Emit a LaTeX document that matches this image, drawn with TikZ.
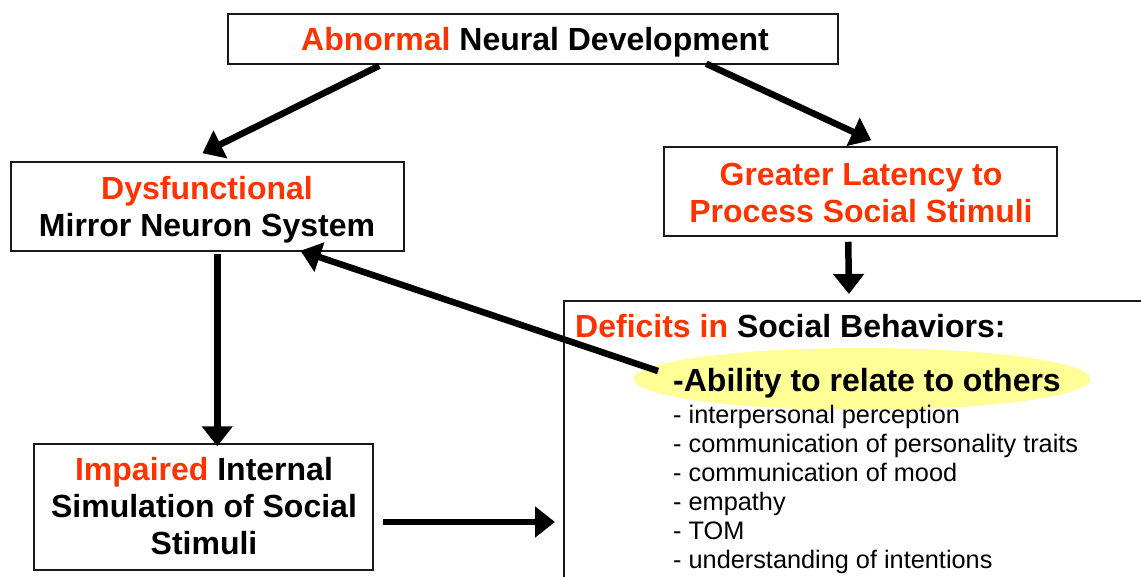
\documentclass[tikz,border=0pt]{standalone}
\usepackage{fontspec}
\setmainfont{Liberation Sans}
\usetikzlibrary{arrows.meta,shapes.geometric,calc}
\definecolor{rd}{RGB}{255,51,0}
\definecolor{hl}{RGB}{255,255,150}
\newcommand\dgbig{\fontsize{32pt}{37pt}\selectfont\bfseries}
\newcommand\dgsmall{\fontsize{25.3pt}{29pt}\selectfont}
\begin{document}
\begin{tikzpicture}[x=1pt,y=-1pt,
  box/.style={draw=black!90, line width=1.5pt, fill=white, inner sep=0pt},
  arr/.style={line width=6.5pt, -{Triangle[length=20pt,width=30pt]}},
  txt/.style={anchor=base, inner sep=0pt, font=\dgbig},
  lst/.style={anchor=base west, inner sep=0pt, font=\dgsmall}]
\useasboundingbox (0,0) rectangle (1141,576);
\clip (0,0) rectangle (1141,576);
\fill[white] (0,0) rectangle (1141,576);
% boxes
\node[box, minimum width=610pt, minimum height=50pt] (top) at (533,39) {};
\node[box, minimum width=393pt, minimum height=89pt] (mns) at (207.25,206.5) {};
\node[box, minimum width=393pt, minimum height=89pt] (lat) at (860.5,191.5) {};
\node[box, minimum width=339pt, minimum height=126pt] (sim) at (203.5,507) {};
\node[box, anchor=north west, minimum width=640pt, minimum height=320pt] (def) at (563,300) {};
\node[ellipse, fill=hl, inner sep=0pt, minimum width=457pt, minimum height=62pt] (ell) at (862,379) {};
% arrows
\draw[arr] ($(top.south west)+(152,1)$) -- ($(mns.north west)+(192.5,-8)$);
\draw[arr] ($(top.south west)+(479,-1)$) -- ($(lat.north west)+(208,-6)$);
\draw[arr] ($(lat.south west)+(185,5)$) -- ($(def.north west)+(286,-6)$);
\draw[arr] ($(mns.south west)+(207.25,2)$) -- ($(sim.north west)+(184,3)$);
\draw[arr] ($(sim.east)+(9,15)$) -- ($(def.north west)+(-8,222)$);
\draw[arr] ($(ell.center)+(-204,-8)$) -- ($(mns.south east)+(-104,-1)$);
% texts
\node[txt] (topt) at (535,50) {\textcolor{rd}{Abnormal} Neural Development};
\node[txt] (mns1) at (207,199) {\textcolor{rd}{Dysfunctional}};
\node[txt] (mns2) at (207,236) {Mirror Neuron System};
\node[txt, text=rd] (lat1) at (861,185) {Greater Latency to};
\node[txt, text=rd] (lat2) at (861,222) {Process Social Stimuli};
\node[txt] (sim1) at (204,480) {\textcolor{rd}{Impaired} Internal};
\node[txt] (sim2) at (204,517) {Simulation of Social};
\node[txt] (sim3) at (204,554) {Stimuli};
\node[txt, anchor=base west] (deft) at (575,337) {\textcolor{rd}{Deficits in} Social Behaviors:};
\node[txt, anchor=base west] (abil) at (673,391) {-Ability to relate to others};
\node[lst] (l1) at (673,423) {- interpersonal perception};
\node[lst] (l2) at (673,452) {- communication of personality traits};
\node[lst] (l3) at (673,481) {- communication of mood};
\node[lst] (l4) at (673,510) {- empathy};
\node[lst] (l5) at (673,539) {- TOM};
\node[lst] (l6) at (673,568) {- understanding of intentions};
\end{tikzpicture}
\end{document}
